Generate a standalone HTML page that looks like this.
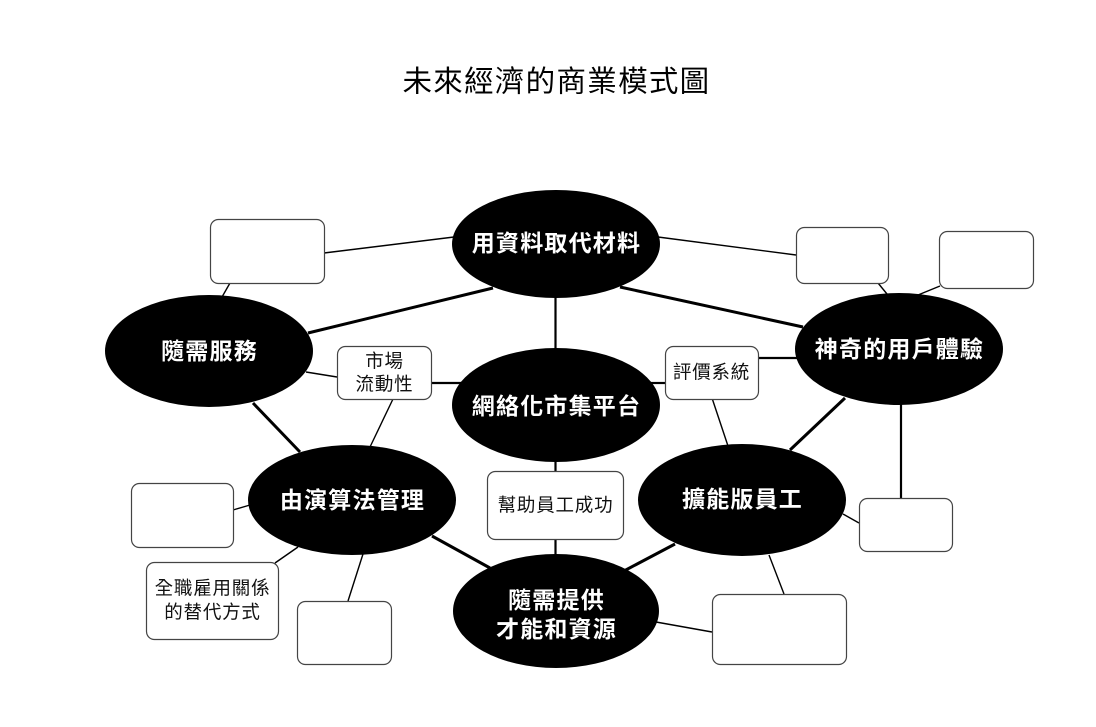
<!DOCTYPE html>
<html><head><meta charset="utf-8"><style>
html,body{margin:0;padding:0;background:#fff;}
svg{display:block;}
.t{font-family:"Liberation Sans","Noto Sans CJK TC",sans-serif;}
</style></head><body>
<svg width="1096" height="727" viewBox="0 0 1096 727" xmlns="http://www.w3.org/2000/svg">
<rect width="1096" height="727" fill="#fff"/>
<text class="t" x="556.5" y="82" font-size="29.5" letter-spacing="1.3" text-anchor="middle" dominant-baseline="central" fill="#000">未來經濟的商業模式圖</text>

<!-- thick lines -->
<g stroke="#000" stroke-width="3" fill="none">
<line x1="493" y1="288" x2="308" y2="333"/>
<line x1="620" y1="287" x2="803" y2="327"/>
<line x1="253" y1="403" x2="300" y2="452"/>
<line x1="845" y1="398" x2="790" y2="450"/>
<line x1="432" y1="536" x2="490" y2="568"/>
<line x1="675" y1="544" x2="622" y2="572"/>
</g>
<g stroke="#000" stroke-width="2.2" fill="none">
<line x1="555.5" y1="296" x2="555.5" y2="350"/>
<line x1="555.5" y1="460" x2="555.5" y2="472"/>
<line x1="555.5" y1="538" x2="555.5" y2="557"/>
<line x1="431" y1="383" x2="462" y2="383"/>
<line x1="650" y1="383" x2="665" y2="383"/>
<line x1="758" y1="358" x2="798" y2="358"/>
<line x1="901" y1="404" x2="901" y2="498"/>
</g>
<!-- thin lines -->
<g stroke="#000" stroke-width="1.4" fill="none">
<line x1="324" y1="253" x2="454" y2="237"/>
<line x1="230" y1="283" x2="222" y2="297"/>
<line x1="658" y1="237" x2="796" y2="255"/>
<line x1="878" y1="283" x2="887" y2="294"/>
<line x1="940" y1="286" x2="918" y2="295"/>
<line x1="306" y1="372" x2="337" y2="377"/>
<line x1="393" y1="399" x2="370" y2="447"/>
<line x1="712" y1="398" x2="728" y2="446"/>
<line x1="843" y1="514" x2="859" y2="523"/>
<line x1="769" y1="555" x2="784" y2="594"/>
<line x1="656" y1="622" x2="712" y2="632"/>
<line x1="233" y1="510" x2="250" y2="505"/>
<line x1="275" y1="563" x2="298" y2="547"/>
<line x1="363" y1="554" x2="348" y2="601"/>
</g>

<!-- ellipses -->
<g fill="#000">
<ellipse cx="556" cy="244" rx="104" ry="54"/>
<ellipse cx="209" cy="351" rx="104" ry="56"/>
<ellipse cx="556" cy="405" rx="104" ry="57"/>
<ellipse cx="899" cy="349" rx="104" ry="56"/>
<ellipse cx="352" cy="500" rx="104" ry="55"/>
<ellipse cx="742" cy="500" rx="104" ry="56"/>
<ellipse cx="556" cy="611" rx="103" ry="57"/>
</g>

<!-- boxes -->
<g fill="#fff" stroke="#444" stroke-width="1.2">
<rect x="210.5" y="219.5" width="114" height="64" rx="8"/>
<rect x="337.5" y="346.5" width="94" height="53" rx="8"/>
<rect x="796.5" y="227.5" width="92" height="56" rx="8"/>
<rect x="939.5" y="231.5" width="94" height="57" rx="8"/>
<rect x="665.5" y="346.5" width="93" height="53" rx="8"/>
<rect x="131.5" y="483.5" width="102" height="64" rx="8"/>
<rect x="146.5" y="562.5" width="132" height="77" rx="8"/>
<rect x="297.5" y="601.5" width="94" height="63" rx="8"/>
<rect x="487.5" y="471.5" width="136" height="68" rx="8"/>
<rect x="859.5" y="498.5" width="93" height="53" rx="8"/>
<rect x="712.5" y="594.5" width="134" height="70" rx="8"/>
</g>

<!-- ellipse labels -->
<g class="t" fill="#fff" font-size="23" font-weight="700" letter-spacing="1.2" text-anchor="middle" dominant-baseline="central">
<text x="556.5" y="243">用資料取代材料</text>
<text x="209.5" y="351">隨需服務</text>
<text x="556.5" y="406">網絡化市集平台</text>
<text x="899.5" y="349">神奇的用戶體驗</text>
<text x="352.5" y="500">由演算法管理</text>
<text x="742.5" y="499">擴能版員工</text>
<text x="556.5" y="600">隨需提供</text>
<text x="556.5" y="629">才能和資源</text>
</g>

<!-- box labels -->
<g class="t" fill="#111" font-size="18.5" letter-spacing="0.8" text-anchor="middle" dominant-baseline="central">
<text x="384.5" y="361">市場</text>
<text x="384.5" y="384">流動性</text>
<text x="711.5" y="372">評價系統</text>
<text x="212.5" y="588">全職雇用關係</text>
<text x="212.5" y="612">的替代方式</text>
<text x="555.5" y="505">幫助員工成功</text>
</g>
</svg>
</body></html>
